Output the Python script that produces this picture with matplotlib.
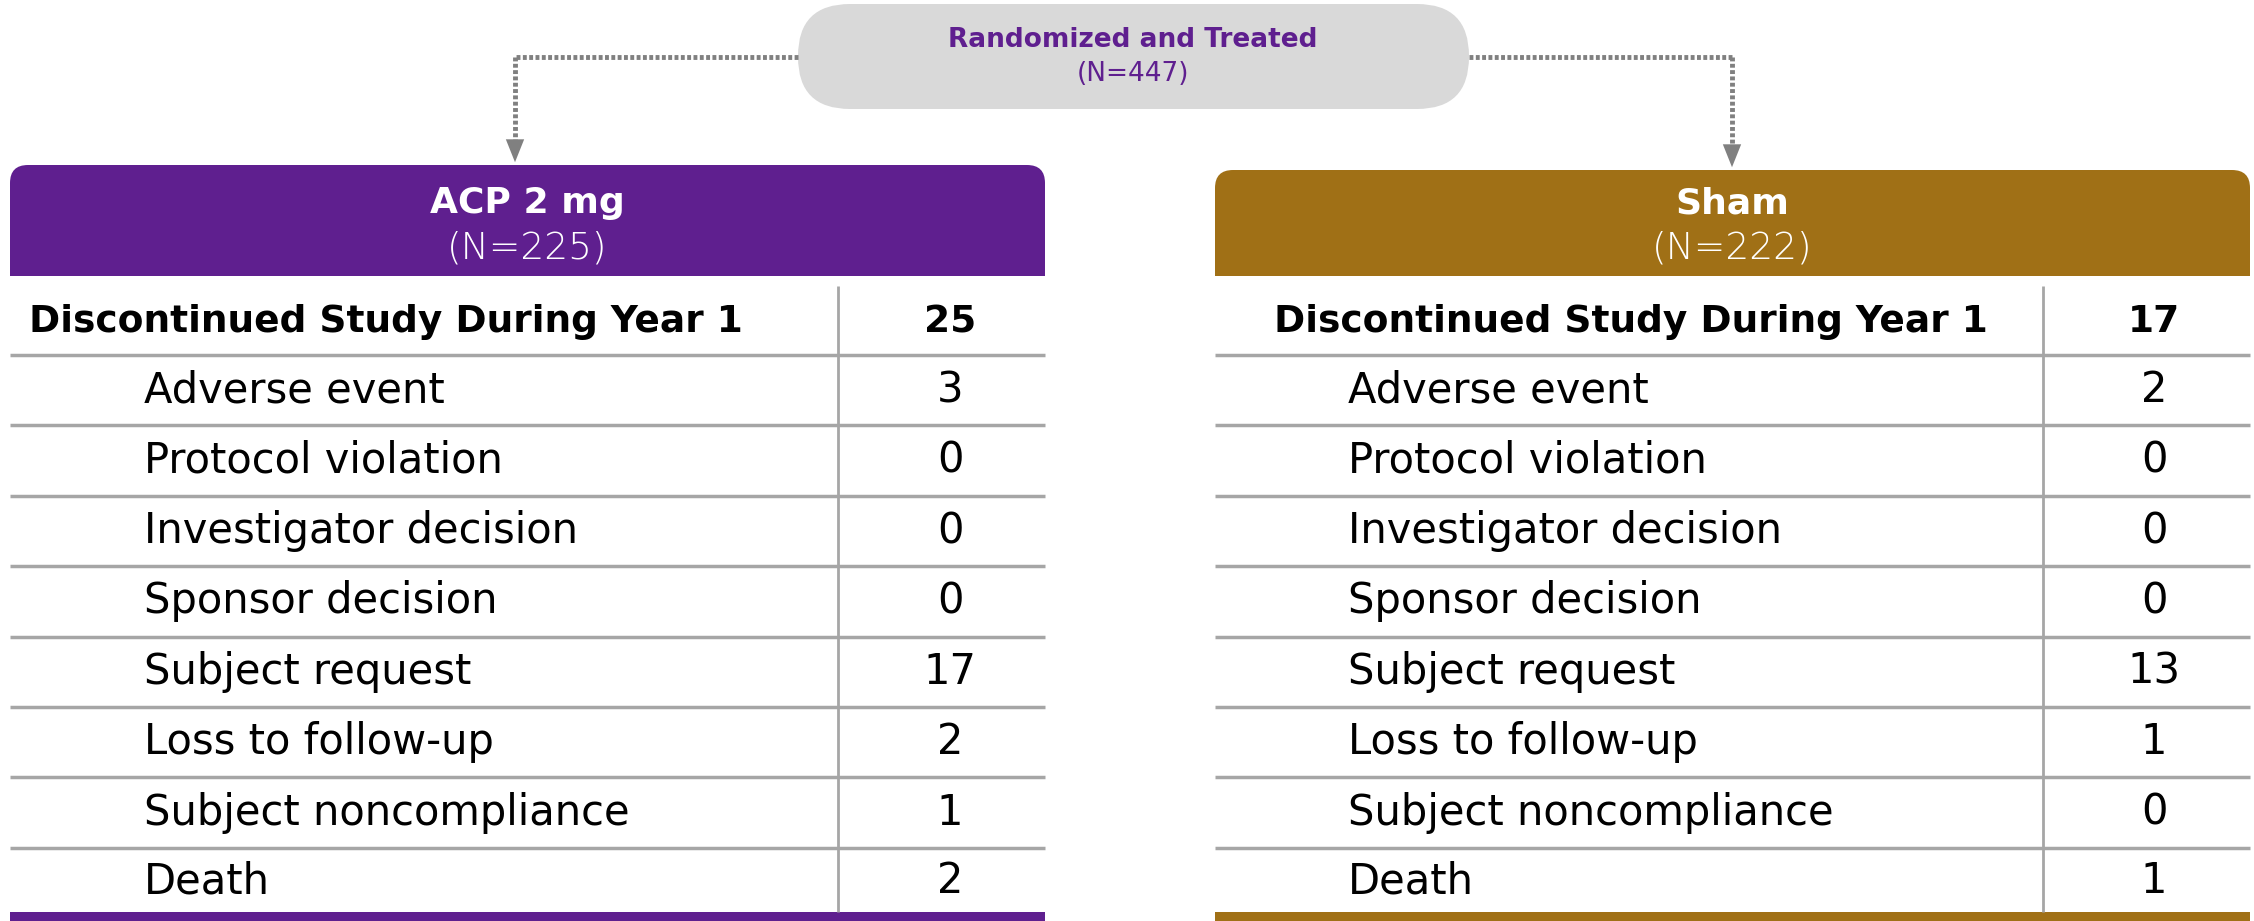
import matplotlib.pyplot as plt
from matplotlib.patches import FancyBboxPatch, Rectangle

# data
reasons = ["Adverse event", "Protocol violation", "Investigator decision",
           "Sponsor decision", "Subject request", "Loss to follow-up",
           "Subject noncompliance", "Death"]
acp_counts = [3, 0, 0, 0, 17, 2, 1, 2]
sham_counts = [2, 0, 0, 0, 13, 1, 0, 1]
acp_total, sham_total = 25, 17
arm_names = ["ACP 2 mg", "Sham"]
arm_n = [225, 222]
total_n = 447
header_label = "Discontinued Study During Year 1"

purple = "#5f1f8f"
gold = "#a07016"
grid_c = "#a6a6a6"
FONT = "DejaVu Sans"

W, H = 2254, 921
fig = plt.figure(figsize=(W / 100, H / 100), dpi=100)
ax = fig.add_axes([0, 0, 1, 1])
ax.set_xlim(0, W)
ax.set_ylim(H, 0)
ax.axis("off")

# top pill
pill = FancyBboxPatch((798, 4), 671, 105, boxstyle="round,pad=0,rounding_size=52",
                      fc="#d9d9d9", ec="none")
ax.add_patch(pill)
ax.text(1133, 40, "Randomized and Treated", ha="center", va="center", fontsize=19,
        fontweight="bold", color=purple, family=FONT)
ax.text(1133, 74, "(N=%d)" % total_n, ha="center", va="center", fontsize=19,
        color=purple, family=FONT)

# dotted connectors
dot = dict(color="#808080", lw=3.5, ls=(0, (0.8, 0.5)))
ax.plot([798, 515], [57, 57], **dot)
ax.plot([515, 515], [57, 145], **dot)
ax.plot([1469, 1732], [57, 57], **dot)
ax.plot([1732, 1732], [57, 150], **dot)
head = dict(arrowstyle="-|>,head_width=0.3,head_length=0.75", color="#808080", lw=0,
            mutation_scale=22)
ax.annotate("", xy=(515, 165), xytext=(515, 140), arrowprops=head)
ax.annotate("", xy=(1732, 170), xytext=(1732, 145), arrowprops=head)

row_lines = [355 + i * 70.4 for i in range(8)]
row_mid = [322] + [355 + 70.4 * (i + 0.5) for i in range(7)] + [881]


def draw_table(x0, x1, xsep, xnum, top, color, name, n, total, counts, bold_x, sub_x):
    # header box with rounded top corners
    r = 18
    ax.add_patch(FancyBboxPatch((x0 + r, top + r), x1 - x0 - 2 * r, 276 - top - 2 * r,
                                boxstyle="round,pad=%d" % r, fc=color, ec="none"))
    ax.add_patch(Rectangle((x0, top + 40), x1 - x0, 276 - top - 40, fc=color, ec="none"))
    ax.text((x0 + x1) / 2, 203, name, ha="center", va="center", fontsize=26,
            fontweight="bold", color="white", family=FONT)
    ax.text((x0 + x1) / 2, 248, "(N=%d)" % n, ha="center", va="center", fontsize=27,
            color="white", family=FONT, fontweight="light")
    for y in row_lines:
        ax.plot([x0, x1], [y, y], color=grid_c, lw=2.5, solid_capstyle="butt")
    ax.plot([xsep, xsep], [286, 912], color=grid_c, lw=2, solid_capstyle="butt")
    ax.add_patch(Rectangle((x0, 912), x1 - x0, 12, fc=color, ec="none"))
    ax.text(bold_x, row_mid[0], header_label, ha="left", va="center", fontsize=27,
            fontweight="bold", color="black", family=FONT)
    ax.text(xnum, row_mid[0], str(total), ha="center", va="center", fontsize=27,
            fontweight="bold", color="black", family=FONT)
    for i, (lab, c) in enumerate(zip(reasons, counts)):
        ax.text(sub_x, row_mid[i + 1], lab, ha="left", va="center", fontsize=30,
                color="black", family=FONT)
        ax.text(xnum, row_mid[i + 1], str(c), ha="center", va="center", fontsize=30,
                color="black", family=FONT)


draw_table(10, 1045, 838, 950, 165, purple, arm_names[0], arm_n[0], acp_total,
           acp_counts, 29, 144)
draw_table(1215, 2250, 2043, 2154, 170, gold, arm_names[1], arm_n[1], sham_total,
           sham_counts, 1274, 1348)

fig.savefig("out.png", dpi=100)
